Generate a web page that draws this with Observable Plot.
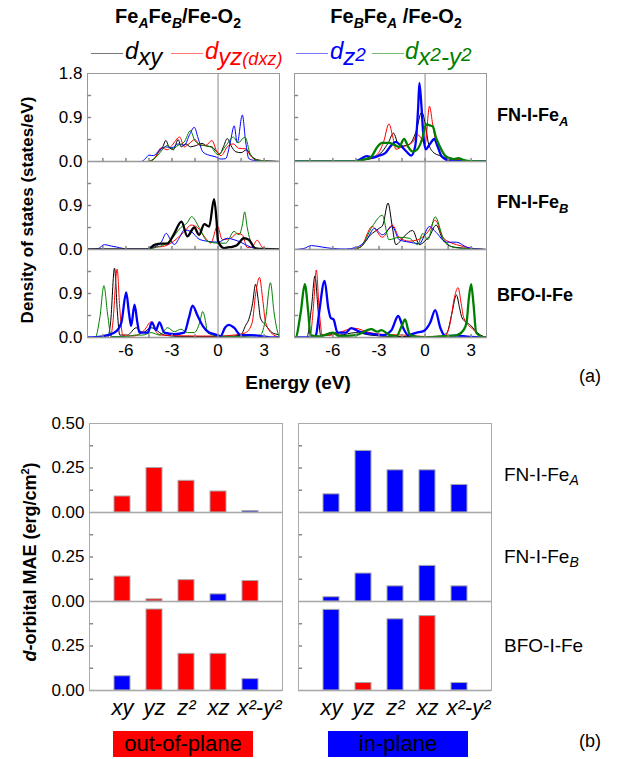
<!DOCTYPE html>
<html><head><meta charset="utf-8">
<script src="https://cdn.jsdelivr.net/npm/d3@7"></script>
<script src="https://cdn.jsdelivr.net/npm/@observablehq/plot@0.6"></script>
<style>
body{margin:0;background:#fff;font-family:"Liberation Sans",Arial,sans-serif;}
#fig{position:relative;width:620px;height:759px;overflow:hidden;background:#fff;}
.abs{position:absolute;white-space:nowrap;line-height:1;}
.c{transform:translate(-50%,-50%);}
.lc{transform:translate(0,-50%);}
.rot{transform:translate(-50%,-50%) rotate(-90deg);}
.leg{position:absolute;height:0;border-top:1.5px solid;}
.lt{position:absolute;white-space:nowrap;line-height:1;font-style:italic;font-size:24px;}
.lt .s{position:relative;top:6px;}
.lt .p{position:relative;top:-4px;font-size:19px;}
</style></head><body>
<div id="fig">
  <div id="dos" class="abs" style="left:0;top:0"></div>
  <div id="mae" class="abs" style="left:0;top:400px"></div>

  <div class="abs c" style="left:178px;top:18px;font-size:20px;font-weight:bold;">Fe<sub style="font-size:14px;font-style:italic">A</sub>Fe<sub style="font-size:14px;font-style:italic">B</sub>/Fe-O<sub style="font-size:14px">2</sub></div>
  <div class="abs c" style="left:396px;top:18px;font-size:20px;font-weight:bold;">Fe<sub style="font-size:14px;font-style:italic">B</sub>Fe<sub style="font-size:14px;font-style:italic">A</sub> /Fe-O<sub style="font-size:14px">2</sub></div>

  <div class="leg" style="left:91px;top:53px;width:32px;border-color:#777"></div>
  <div class="lt" style="left:125px;top:39px;color:#000">d<span class="s">xy</span></div>
  <div class="leg" style="left:171px;top:53px;width:32px;border-color:#f77"></div>
  <div class="lt" style="left:205px;top:39px;color:#f00">d<span class="s">yz<span style="font-size:18px">(d<span style="font-size:18px">xz</span>)</span></span></div>
  <div class="leg" style="left:296px;top:53px;width:32px;border-color:#77f"></div>
  <div class="lt" style="left:330px;top:39px;color:#00f">d<span class="s">z<span class="p">2</span></span></div>
  <div class="leg" style="left:372px;top:53px;width:32px;border-color:#7b7"></div>
  <div class="lt" style="left:405px;top:39px;color:#008000">d<span class="s">x<span class="p">2</span>-y<span class="p">2</span></span></div>

  <div class="abs rot" style="left:27px;top:210px;font-size:17px;font-weight:bold;">Density of states (states/eV)</div>
  <div class="abs c" style="left:298px;top:382px;font-size:19px;font-weight:bold;">Energy (eV)</div>
  <div class="abs c" style="left:590px;top:376px;font-size:18px;">(a)</div>

  <div class="abs lc" style="left:497px;top:117px;font-size:18px;font-weight:bold;">FN-I-Fe<sub style="font-size:13px;font-style:italic">A</sub></div>
  <div class="abs lc" style="left:497px;top:204px;font-size:18px;font-weight:bold;">FN-I-Fe<sub style="font-size:13px;font-style:italic">B</sub></div>
  <div class="abs lc" style="left:497px;top:295px;font-size:18px;font-weight:bold;">BFO-I-Fe</div>

  <div class="abs rot" style="left:29px;top:562px;font-size:18px;font-weight:bold;"><i>d</i>-orbital MAE (erg/cm<sup style="font-size:11px">2</sup>)</div>
  <div class="abs lc" style="left:504px;top:476px;font-size:19px;">FN-I-Fe<sub style="font-size:14px;font-style:italic">A</sub></div>
  <div class="abs lc" style="left:504px;top:558px;font-size:19px;">FN-I-Fe<sub style="font-size:14px;font-style:italic">B</sub></div>
  <div class="abs lc" style="left:504px;top:645px;font-size:19px;">BFO-I-Fe</div>
  <div class="abs c" style="left:590px;top:741px;font-size:18px;">(b)</div>

  <div class="abs" style="left:113px;top:731px;width:140px;height:26px;background:#ff0000;font-size:22px;text-align:center;line-height:26px;">out-of-plane</div>
  <div class="abs" style="left:328px;top:731px;width:140px;height:26px;background:#0000ff;font-size:22px;text-align:center;line-height:26px;">in-plane</div>
</div>
<script>
// ---------- DOS data: [energy (eV), DOS (states/eV)] ----------
const dosColumns = ["FeAFeB", "FeBFeA"];
const dosRowsKeys = ["FeA", "FeB", "BFO"];
const orbitals = ["dxy", "dyz", "dz2", "dx2y2"];
const energyTicks = [-6, -3, 0, 3];
const energyMinorTicks = [-7.5, -6, -4.5, -3, -1.5, 0, 1.5, 3];
const dosTicks = [0, 0.9];
const dosMinorTicks = [0.45, 0.9, 1.35];

const dos_FeAFeB_FeA_dxy = [[-8.5,0],[-4.6,0],[-4.2,0.04],[-3.9,0.18],[-3.6,0.3],[-3.4,0.43],[-3.2,0.3],[-2.9,0.24],[-2.6,0.45],[-2.4,0.3],[-2.1,0.36],[-1.8,0.3],[-1.4,0.33],[-1.05,0.37],[-0.75,0.32],[-0.4,0.3],[-0.1,0.2],[0.1,0.15],[0.35,0.3],[0.6,0.47],[0.85,0.32],[1.15,0.2],[1.5,0.18],[1.85,0.24],[2.15,0.12],[2.5,0.04],[3,0.01],[4,0]];
const dos_FeAFeB_FeA_dyz = [[-8.5,0],[-4.6,0],[-4.1,0.08],[-3.7,0.28],[-3.3,0.24],[-3.0,0.33],[-2.5,0.5],[-2.2,0.3],[-1.9,0.36],[-1.5,0.45],[-1.2,0.33],[-0.8,0.33],[-0.4,0.43],[-0.1,0.22],[0.2,0.12],[0.6,0.3],[1.0,0.36],[1.35,0.27],[1.8,0.26],[2.1,0.12],[2.5,0.03],[4,0]];
const dos_FeAFeB_FeA_dz2 = [[-8.5,0],[-5.0,0],[-4.7,0.07],[-4.5,0.13],[-4.2,0.12],[-3.8,0.24],[-3.4,0.3],[-3.0,0.28],[-2.6,0.36],[-2.2,0.33],[-1.85,0.55],[-1.55,0.7],[-1.3,0.48],[-1.0,0.2],[-0.6,0.13],[-0.2,0.1],[0.2,0.05],[0.5,0.06],[0.8,0.4],[1.05,0.73],[1.25,0.38],[1.58,0.95],[1.8,0.4],[2.0,0.06],[2.4,0.02],[4,0]];
const dos_FeAFeB_FeA_dx2y2 = [[-8.5,0],[-4.6,0],[-4.0,0.1],[-3.6,0.25],[-3.3,0.33],[-3.0,0.26],[-2.6,0.33],[-2.2,0.4],[-1.8,0.63],[-1.5,0.42],[-1.0,0.33],[-0.5,0.3],[0,0.14],[0.5,0.32],[1.0,0.5],[1.3,0.38],[1.75,0.5],[2.1,0.15],[2.5,0.03],[4,0]];

const dos_FeBFeA_FeA_dxy = [[-8.5,0],[-4.8,0],[-4.0,0.03],[-3.3,0.08],[-2.8,0.2],[-2.4,0.38],[-2.05,0.58],[-1.75,0.36],[-1.4,0.32],[-1.0,0.36],[-0.6,0.6],[-0.22,1.01],[0.05,0.7],[0.2,0.4],[0.5,0.2],[0.95,0.12],[1.6,0.05],[2.5,0.02],[4,0]];
const dos_FeBFeA_FeA_dyz = [[-8.5,0],[-4.8,0],[-4.0,0.04],[-3.2,0.12],[-2.7,0.4],[-2.35,0.77],[-2.1,0.5],[-1.9,0.25],[-1.5,0.3],[-1.15,0.33],[-0.8,0.4],[-0.5,0.55],[-0.2,0.45],[0.0,0.35],[0.29,1.13],[0.5,0.75],[0.72,0.39],[1.0,0.25],[1.4,0.1],[2.0,0.05],[2.6,0.02],[4,0]];
const dos_FeBFeA_FeA_dz2 = [[-8.5,0],[-4.6,0],[-4.2,0.05],[-3.8,0.11],[-3.4,0.08],[-3.0,0.12],[-2.6,0.17],[-2.2,0.33],[-1.9,0.4],[-1.6,0.33],[-1.2,0.2],[-0.9,0.12],[-0.65,0.3],[-0.45,1.1],[-0.37,1.61],[-0.25,1.2],[-0.1,0.5],[0.05,0.25],[0.3,0.35],[0.6,0.46],[0.8,0.32],[1.05,0.12],[1.3,0.05],[1.6,0.01],[4,0]];
const dos_FeBFeA_FeA_dx2y2 = [[-8.5,0],[-4.6,0],[-4.0,0.04],[-3.5,0.1],[-3.1,0.3],[-2.8,0.38],[-2.35,0.38],[-2.0,0.34],[-1.7,0.3],[-1.36,0.46],[-1.1,0.3],[-0.8,0.2],[-0.5,0.25],[-0.2,0.45],[0.07,0.76],[0.3,0.74],[0.5,0.72],[0.7,0.5],[0.94,0.32],[1.3,0.12],[1.6,0.07],[1.9,0.05],[2.15,0.07],[2.5,0.03],[2.8,0.01],[4,0]];

const dos_FeAFeB_FeB_dxy = [[-8.5,0],[-4.6,0],[-4.1,0.1],[-3.7,0.12],[-3.3,0.12],[-2.9,0.3],[-2.38,0.57],[-2.0,0.27],[-1.55,0.45],[-1.23,0.3],[-0.9,0.52],[-0.58,0.47],[-0.26,1.03],[-0.1,0.6],[0.0,0.17],[0.39,0.03],[0.82,0.05],[1.2,0.08],[1.68,0.23],[2.0,0.2],[2.44,0.02],[3,0.01],[4,0]];
const dos_FeAFeB_FeB_dyz = [[-8.5,0],[-4.6,0],[-4.0,0.05],[-3.6,0.06],[-3.07,0.13],[-2.42,0.3],[-2.1,0.4],[-1.77,0.5],[-1.34,0.45],[-0.9,0.27],[-0.47,0.13],[-0.04,0.48],[0.28,0.2],[0.82,0.23],[1.25,0.33],[1.58,0.3],[1.9,0.04],[2.2,0.05],[2.55,0.19],[2.87,0.05],[3.3,0.01],[4,0]];
const dos_FeAFeB_FeB_dz2 = [[-8.5,0],[-7.8,0.02],[-7.4,0.1],[-6.95,0.07],[-6.6,0.05],[-5.9,0.01],[-4.7,0.01],[-4.15,0.05],[-3.7,0.15],[-3.37,0.33],[-3.1,0.2],[-2.85,0.1],[-2.5,0.25],[-2.2,0.4],[-1.77,0.37],[-1.23,0.21],[-0.7,0.17],[0,0.15],[0.6,0.23],[1.04,0.2],[1.47,0.15],[1.9,0.08],[2.33,0.03],[3,0.01],[4,0]];
const dos_FeAFeB_FeB_dx2y2 = [[-8.5,0],[-4.6,0],[-4.0,0.05],[-3.5,0.1],[-3.07,0.2],[-2.42,0.45],[-2.0,0.55],[-1.73,0.67],[-1.23,0.45],[-0.7,0.17],[0,0.13],[0.5,0.13],[1.04,0.37],[1.36,0.3],[1.58,0.5],[1.73,0.77],[1.9,0.45],[2.0,0.3],[2.33,0.05],[3,0.01],[4,0]];

const dos_FeBFeA_FeB_dxy = [[-8.5,0],[-4.8,0],[-4.2,0.05],[-3.55,0.3],[-3.0,0.43],[-2.75,0.5],[-2.41,0.95],[-2.15,0.5],[-1.9,0.1],[-1.36,0.27],[-0.81,0.39],[-0.37,0.1],[0.07,0.2],[0.28,0.27],[0.72,0.5],[1.16,0.2],[1.82,0.05],[3.0,0.02],[4,0]];
const dos_FeBFeA_FeB_dyz = [[-8.5,0],[-4.8,0],[-4.2,0.05],[-3.44,0.47],[-2.78,0.25],[-2.13,0.5],[-1.69,0.25],[-1.03,0.17],[-0.48,0.2],[0.28,0.4],[0.66,0.6],[1.16,0.25],[1.6,0.15],[2.04,0.1],[2.5,0.06],[2.9,0.03],[4,0]];
const dos_FeBFeA_FeB_dz2 = [[-8.5,0],[-7.9,0.02],[-7.4,0.08],[-6.7,0.05],[-6.0,0.02],[-5.2,0.01],[-4.5,0.04],[-3.8,0.2],[-3.3,0.43],[-2.78,0.3],[-2.13,0.47],[-1.69,0.2],[-1.03,0.15],[-0.37,0.12],[0.28,0.47],[0.72,0.35],[1.38,0.15],[2.04,0.15],[2.7,0.05],[3.5,0.01],[4,0]];
const dos_FeBFeA_FeB_dx2y2 = [[-8.5,0],[-4.8,0],[-4.2,0.05],[-3.44,0.47],[-2.78,0.7],[-2.35,0.2],[-1.69,0.25],[-1.03,0.23],[-0.48,0.1],[-0.15,0.33],[0.18,0.2],[0.66,0.67],[1.16,0.25],[1.82,0.05],[2.5,0.02],[4,0]];

const dos_FeAFeB_BFO_dxy = [[-8.5,0],[-7.2,0],[-7.0,0.3],[-6.74,1.42],[-6.55,0.5],[-6.4,0.05],[-5.9,0.05],[-5.33,0.2],[-4.9,0.1],[-4.36,0.2],[-3.5,0.05],[-2.5,0.02],[0,0.02],[1.0,0.03],[1.47,0.05],[1.8,0.25],[2.0,0.37],[2.25,0.7],[2.44,1.09],[2.6,0.8],[2.76,0.4],[3.1,0.25],[3.52,0.1],[3.95,0.05],[4,0.04]];
const dos_FeAFeB_BFO_dyz = [[-8.5,0],[-7.0,0],[-6.85,0.3],[-6.57,1.4],[-6.4,0.6],[-6.2,0.05],[-5.5,0.03],[-4.8,0.15],[-4.36,0.32],[-4.0,0.1],[-3.7,0.05],[-1.1,0.03],[0,0.03],[1.04,0.05],[1.8,0.1],[2.22,0.3],[2.45,0.9],[2.7,1.23],[2.9,0.8],[3.1,0.3],[3.63,0.05],[4,0.01]];
const dos_FeAFeB_BFO_dz2 = [[-8.5,0],[-7.6,0.02],[-6.74,0.1],[-6.3,0.3],[-5.98,0.92],[-5.8,0.5],[-5.66,0.24],[-5.44,0.67],[-5.25,0.3],[-5.12,0.1],[-4.58,0.1],[-4.3,0.31],[-4.04,0.15],[-3.82,0.31],[-3.5,0.1],[-2.85,0.07],[-2.2,0.1],[-1.9,0.4],[-1.66,0.65],[-1.34,0.45],[-1.0,0.24],[-0.58,0.1],[-0.26,0.07],[0.17,0.03],[0.45,0.2],[0.71,0.26],[1.04,0.2],[1.47,0.05],[2.12,0.05],[2.76,0.03],[3.63,0],[4,0]];
const dos_FeAFeB_BFO_dx2y2 = [[-8.5,0],[-8.0,0],[-7.7,0.4],[-7.43,1.06],[-7.2,0.5],[-6.95,0.02],[-5.9,0.02],[-5.44,0.05],[-4.9,0.05],[-4.36,0.1],[-3.8,0.05],[-3.28,0.2],[-2.85,0.12],[-2.42,0.17],[-1.99,0.1],[-1.55,0.1],[-1.2,0.3],[-1.0,0.53],[-0.8,0.3],[-0.7,0.1],[0,0.03],[1.5,0.02],[2.76,0.05],[3.1,0.4],[3.41,1.12],[3.65,0.5],[3.95,0.05],[4,0.03]];

const dos_FeBFeA_BFO_dxy = [[-8.5,0],[-7.7,0],[-7.4,0.6],[-7.17,1.26],[-6.95,0.5],[-6.8,0.05],[-6.2,0.05],[-5.8,0.1],[-5.6,0.05],[-4.5,0.1],[-3.6,0.05],[-2.0,0.02],[1.0,0.02],[1.43,0.1],[1.75,0.5],[2.04,0.87],[2.25,0.6],[2.41,0.4],[2.96,0.25],[3.4,0.1],[3.8,0.02],[4,0]];
const dos_FeBFeA_BFO_dyz = [[-8.5,0],[-7.5,0],[-7.25,0.7],[-7.08,1.38],[-6.9,0.6],[-6.69,0.05],[-6.1,0.05],[-5.6,0.1],[-4.6,0.19],[-3.6,0.1],[-2.5,0.06],[-1.4,0.05],[0,0.02],[1.3,0.03],[1.64,0.3],[1.9,0.8],[2.15,1.02],[2.35,0.7],[2.52,0.4],[3.18,0.15],[3.5,0.05],[4,0]];
const dos_FeBFeA_BFO_dz2 = [[-8.5,0],[-7.3,0],[-7.1,0.05],[-6.9,0.5],[-6.54,1.16],[-6.3,0.6],[-6.14,0.4],[-5.96,0.37],[-5.7,0.1],[-5.15,0.1],[-4.82,0.19],[-4.28,0.12],[-3.6,0.08],[-2.74,0.05],[-2.19,0.15],[-1.75,0.44],[-1.43,0.2],[-1.1,0.05],[-0.55,0.1],[-0.1,0.13],[0.33,0.3],[0.66,0.56],[0.99,0.2],[1.32,0.03],[2.08,0.04],[2.74,0.02],[4,0]];
const dos_FeBFeA_BFO_dx2y2 = [[-8.5,0],[-8.44,0],[-8.1,0.5],[-7.83,1.09],[-7.6,0.5],[-7.46,0.05],[-6.9,0.02],[-6.0,0.1],[-5.6,0.03],[-4.5,0.05],[-3.5,0.17],[-3.1,0.12],[-2.85,0.15],[-2.3,0.05],[-1.86,0.03],[-1.5,0.25],[-1.3,0.37],[-1.1,0.15],[-0.99,0.05],[-0.1,0],[1.43,0.03],[2.08,0.05],[2.5,0.15],[2.7,0.3],[2.85,0.8],[3.0,1.09],[3.15,0.7],[3.33,0.1],[3.84,0],[4,0]];

// ---------- MAE data (erg/cm^2) ----------
const maeOrbitals = ["xy", "yz", "z2", "xz", "x2y2"];
const maeTickLabels = ["xy", "yz", "z²", "xz", "x²-y²"];
const maeTicks = [0, 0.25];
const maeMinorTicks = [0.125, 0.25, 0.375];
const mae_FeAFeB_FeA = [0.09, 0.25, 0.178, 0.118, 0.008];
const dir_FeAFeB_FeA = ["out", "out", "out", "out", "in"];
const mae_FeBFeA_FeA = [0.102, 0.346, 0.237, 0.237, 0.155];
const dir_FeBFeA_FeA = ["in", "in", "in", "in", "in"];
const mae_FeAFeB_FeB = [0.14, 0.012, 0.12, 0.04, 0.115];
const dir_FeAFeB_FeB = ["out", "out", "out", "in", "out"];
const mae_FeBFeA_FeB = [0.024, 0.157, 0.085, 0.2, 0.085];
const dir_FeBFeA_FeB = ["in", "in", "in", "in", "in"];
const mae_FeAFeB_BFO = [0.08, 0.455, 0.206, 0.206, 0.064];
const dir_FeAFeB_BFO = ["in", "out", "out", "out", "in"];
const mae_FeBFeA_BFO = [0.453, 0.042, 0.4, 0.418, 0.042];
const dir_FeBFeA_BFO = ["in", "out", "in", "out", "in"];

// ---------- build tables ----------
const dosCurves = [
  ["FeAFeB","FeA","dxy",dos_FeAFeB_FeA_dxy],["FeAFeB","FeA","dyz",dos_FeAFeB_FeA_dyz],["FeAFeB","FeA","dz2",dos_FeAFeB_FeA_dz2],["FeAFeB","FeA","dx2y2",dos_FeAFeB_FeA_dx2y2],
  ["FeBFeA","FeA","dxy",dos_FeBFeA_FeA_dxy],["FeBFeA","FeA","dyz",dos_FeBFeA_FeA_dyz],["FeBFeA","FeA","dz2",dos_FeBFeA_FeA_dz2],["FeBFeA","FeA","dx2y2",dos_FeBFeA_FeA_dx2y2],
  ["FeAFeB","FeB","dxy",dos_FeAFeB_FeB_dxy],["FeAFeB","FeB","dyz",dos_FeAFeB_FeB_dyz],["FeAFeB","FeB","dz2",dos_FeAFeB_FeB_dz2],["FeAFeB","FeB","dx2y2",dos_FeAFeB_FeB_dx2y2],
  ["FeBFeA","FeB","dxy",dos_FeBFeA_FeB_dxy],["FeBFeA","FeB","dyz",dos_FeBFeA_FeB_dyz],["FeBFeA","FeB","dz2",dos_FeBFeA_FeB_dz2],["FeBFeA","FeB","dx2y2",dos_FeBFeA_FeB_dx2y2],
  ["FeAFeB","BFO","dxy",dos_FeAFeB_BFO_dxy],["FeAFeB","BFO","dyz",dos_FeAFeB_BFO_dyz],["FeAFeB","BFO","dz2",dos_FeAFeB_BFO_dz2],["FeAFeB","BFO","dx2y2",dos_FeAFeB_BFO_dx2y2],
  ["FeBFeA","BFO","dxy",dos_FeBFeA_BFO_dxy],["FeBFeA","BFO","dyz",dos_FeBFeA_BFO_dyz],["FeBFeA","BFO","dz2",dos_FeBFeA_BFO_dz2],["FeBFeA","BFO","dx2y2",dos_FeBFeA_BFO_dx2y2]
];
// styling: which curves are drawn heavy
const heavy = new Set(["FeBFeA|FeA|dz2","FeBFeA|FeA|dx2y2","FeAFeB|FeB|dxy","FeAFeB|BFO|dz2","FeBFeA|BFO|dz2","FeBFeA|BFO|dx2y2"]);
const dosRows = [];
for (const [col,row,orb,pts] of dosCurves) {
  const key = col+"|"+row+"|"+orb;
  for (const [e,v] of pts) dosRows.push({col,row,orb,key,e,v,heavy:heavy.has(key)});
}
const maeSets = [
  ["FeAFeB","FeA",mae_FeAFeB_FeA,dir_FeAFeB_FeA],["FeBFeA","FeA",mae_FeBFeA_FeA,dir_FeBFeA_FeA],
  ["FeAFeB","FeB",mae_FeAFeB_FeB,dir_FeAFeB_FeB],["FeBFeA","FeB",mae_FeBFeA_FeB,dir_FeBFeA_FeB],
  ["FeAFeB","BFO",mae_FeAFeB_BFO,dir_FeAFeB_BFO],["FeBFeA","BFO",mae_FeBFeA_BFO,dir_FeBFeA_BFO]
];
const maeRows = [];
for (const [col,row,vals,dirs] of maeSets) vals.forEach((v,i)=>maeRows.push({col,row,orb:maeOrbitals[i],v,dir:dirs[i]}));

const tickShape = {draw(ctx, l) { ctx.moveTo(0,0); ctx.lineTo(0,-l); }};
const font = {fontFamily:"'Liberation Sans', Arial, sans-serif", fontSize:"17px", color:"#000", background:"transparent", overflow:"visible"};
const maeLabel = d => maeTickLabels[maeOrbitals.indexOf(d)];

const dos = Plot.plot({
  width:620, height:368, marginTop:72, marginBottom:30, marginLeft:87, marginRight:133,
  style:font,
  fx:{domain:dosColumns, padding:0.0723, axis:null},
  fy:{domain:dosRowsKeys, padding:0, axis:null},
  x:{domain:[-8.5,4], label:null},
  y:{domain:[0,1.8], label:null},
  color:{domain:orbitals, range:["#000000","#ff0000","#0000ff","#008000"]},
  marks:[
    Plot.ruleX([0], {stroke:"#888", strokeWidth:1}),
    Plot.line(dosRows.filter(d=>!d.heavy), {fx:"col", fy:"row", x:"e", y:"v", z:"key", stroke:"orb", strokeWidth:1, curve:"monotone-x", clip:true}),
    Plot.line(dosRows.filter(d=>d.heavy), {fx:"col", fy:"row", x:"e", y:"v", z:"key", stroke:"orb", strokeWidth:2.3, curve:"monotone-x", clip:true}),
    Plot.ruleY([0], {stroke:"#999", strokeWidth:1.6}),
    Plot.vector(energyMinorTicks, {x:d=>d, frameAnchor:"bottom", rotate:0, length:3, anchor:"start", shape:tickShape, stroke:"#888"}),
    Plot.vector(dosMinorTicks, {y:d=>d, frameAnchor:"left", rotate:90, length:3, anchor:"start", shape:tickShape, stroke:"#888"}),
    Plot.frame({stroke:"#999"}),
    Plot.axisY({ticks:dosTicks, tickSize:0, tickPadding:5, tickFormat:d=>d.toFixed(1), label:null}),
    Plot.text([{col:"FeAFeB", row:"FeA", v:1.8}], {fx:"col", fy:"row", y:"v", text:d=>d.v.toFixed(1), frameAnchor:"left", textAnchor:"end", dx:-5}),
    Plot.axisX({ticks:energyTicks, tickSize:0, tickPadding:6, tickFormat:d=>String(d), label:null})
  ]
});
document.getElementById("dos").appendChild(dos);

const mae = Plot.plot({
  width:620, height:328, marginTop:23, marginBottom:38, marginLeft:89, marginRight:128,
  style:font,
  fx:{domain:dosColumns, padding:0.0764, axis:null},
  fy:{domain:dosRowsKeys, padding:0, axis:null},
  x:{domain:maeOrbitals, paddingInner:0.5, paddingOuter:0.75, label:null},
  y:{domain:[0,0.5], label:null},
  color:{domain:["out","in"], range:["#ff0000","#0000ff"]},
  marks:[
    Plot.barY(maeRows, {fx:"col", fy:"row", x:"orb", y:"v", fill:"dir", stroke:"#a8a8a8", strokeWidth:1}),
    Plot.ruleY([0], {stroke:"#999", strokeWidth:1.6}),
    Plot.vector(maeMinorTicks, {y:d=>d, frameAnchor:"left", rotate:90, length:3, anchor:"start", shape:tickShape, stroke:"#888"}),
    Plot.frame({stroke:"#aaa"}),
    Plot.axisY({ticks:maeTicks, tickSize:0, tickPadding:5, tickFormat:d=>d.toFixed(2), label:null}),
    Plot.text([{col:"FeAFeB", row:"FeA", v:0.5}], {fx:"col", fy:"row", y:"v", text:d=>d.v.toFixed(2), frameAnchor:"left", textAnchor:"end", dx:-5}),
    Plot.axisX({ticks:maeOrbitals.slice(0,4), tickSize:0, tickPadding:9, tickFormat:maeLabel, fontSize:22, fontStyle:"italic", label:null}),
    Plot.axisX({ticks:maeOrbitals.slice(4), tickSize:0, tickPadding:9, tickFormat:maeLabel, fontSize:22, fontStyle:"italic", dx:9, label:null})
  ]
});
document.getElementById("mae").appendChild(mae);
</script>
</body></html>
